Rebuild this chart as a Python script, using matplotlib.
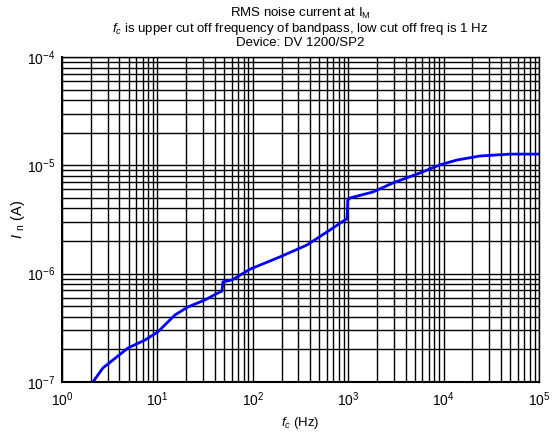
import matplotlib

matplotlib.use("Agg")
import matplotlib.pyplot as plt
from matplotlib.ticker import LogLocator, NullFormatter

plt.rcParams["font.family"] = ["Liberation Sans", "DejaVu Sans"]
plt.rcParams["mathtext.fontset"] = "custom"
plt.rcParams["mathtext.rm"] = "Liberation Sans"
plt.rcParams["mathtext.it"] = "Liberation Sans:italic"

# upper cut-off frequency (Hz) and integrated RMS noise current (A)
freq_hz = [2.11, 2.69, 4.92, 7.41, 10.1, 15.3, 20.9, 31.5, 43.2, 47.5, 48.7,
           60.5, 93.5, 193, 370, 600, 925, 975, 990, 1045, 1820, 2950, 5660,
           9170, 13800, 24100, 49600, 100000]
noise_a = [1.0e-7, 1.35e-7, 2.06e-7, 2.44e-7, 2.9e-7, 4.16e-7, 4.93e-7,
           5.72e-7, 6.64e-7, 6.9e-7, 8.4e-7, 8.75e-7, 1.1e-6, 1.43e-6,
           1.84e-6, 2.43e-6, 3.13e-6, 3.2e-6, 4.79e-6, 5.0e-6, 5.68e-6,
           6.88e-6, 8.51e-6, 1.01e-5, 1.12e-5, 1.22e-5, 1.27e-5, 1.27e-5]

fig = plt.figure(figsize=(5.52, 4.32), dpi=100)
ax = fig.add_axes([0.1123, 0.1157, 0.8641, 0.7523])

ax.plot(freq_hz, noise_a, color="#0000ff", lw=2)
ax.set_xscale("log")
ax.set_yscale("log")
ax.set_xlim(1, 1e5)
ax.set_ylim(1e-7, 1e-4)

for axis in (ax.xaxis, ax.yaxis):
    axis.set_major_locator(LogLocator(base=10, numticks=20))
    axis.set_minor_locator(LogLocator(base=10, subs=range(2, 10), numticks=20))
    axis.set_minor_formatter(NullFormatter())

ax.grid(True, which="both", color="black", lw=1.0)
ax.tick_params(which="both", direction="in", labelsize=10, length=0)
ax.tick_params(axis="x", pad=6)
ax.tick_params(axis="y", pad=5)
for s in ax.spines.values():
    s.set_linewidth(1.0)
ax.spines["left"].set_linewidth(1.5)
ax.spines["bottom"].set_linewidth(1.5)

ax.set_xlabel(r"$f_c$ (Hz)", fontsize=9.5, labelpad=4)
ax.set_ylabel(r"$I$ $_{\rm n}$ (A)", fontsize=10.5, labelpad=0)
ax.set_title("RMS noise current at I$_\\mathrm{M}$\n"
             r"$f_c$ is upper cut off frequency of bandpass, low cut off freq is 1 Hz"
             "\nDevice: DV 1200/SP2", fontsize=9.5, linespacing=1.0, pad=8)

fig.savefig("out.png", dpi=100)
